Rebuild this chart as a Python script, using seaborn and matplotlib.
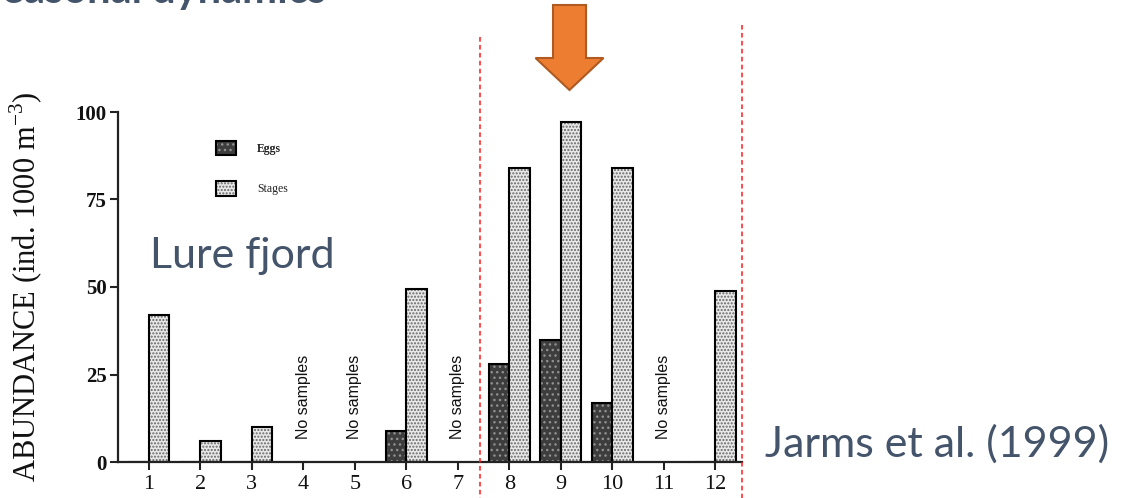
import numpy as np
import pandas as pd
import matplotlib
matplotlib.use("Agg")
import matplotlib.pyplot as plt
import matplotlib.patches as mpatches
import matplotlib.transforms as mtransforms
from matplotlib.lines import Line2D
from matplotlib.colors import to_rgba
import seaborn as sns

# Monthly abundance (ind. 1000 m-3); NaN marks months without samples
months = [str(m) for m in range(1, 13)]
eggs = [0, 0, 0, np.nan, np.nan, 9, np.nan, 28, 35, 17, np.nan, 0]
stages = [42, 6, 10, np.nan, np.nan, 49.5, np.nan, 84, 97, 84, np.nan, 49]
no_sample_months = ["4", "5", "7", "11"]
series_names = ["Eggs", "Stages"]
yticks = [0, 25, 50, 75, 100]

sns.set_theme(style="white")
plt.rcParams["font.family"] = ["Liberation Serif", "DejaVu Serif"]
plt.rcParams["mathtext.fontset"] = "custom"
plt.rcParams["mathtext.rm"] = "Liberation Serif"
plt.rcParams["hatch.linewidth"] = 1.0

W, H = 1127, 498
fig = plt.figure(figsize=(W / 100, H / 100), dpi=100)
fig.patch.set_facecolor("white")

# pixel-space transform (origin top-left) for slide decorations
px = mtransforms.Affine2D().scale(1 / W, -1 / H).translate(0, 1) + fig.transFigure

ax = fig.add_axes([118 / W, 36 / H, 624 / W, 350 / H])

df = pd.DataFrame({
    "month": months * 2,
    "abundance": eggs + stages,
    "series": [series_names[0]] * 12 + [series_names[1]] * 12,
})
palette = {"Eggs": "#3d3d3d", "Stages": "#e8e8e8"}
sns.barplot(data=df, x="month", y="abundance", hue="series", order=months,
            hue_order=series_names, palette=palette, edgecolor="black",
            linewidth=1.5, width=0.8, errorbar=None, legend=False, ax=ax,
            saturation=1)

hatch_cols = {"Eggs": "#909090", "Stages": "#666666"}
hatches = {"Eggs": "...", "Stages": "....."}
for name, cont in zip(series_names, ax.containers):
    for bar in cont:
        bar.set_hatch(hatches[name])
        bar._hatch_color = to_rgba(hatch_cols[name])

for m in no_sample_months:
    ax.text(months.index(m), 6.5, "No samples", rotation=90, ha="center",
            va="bottom", fontsize=11.5, color="#111111",
            family=["Liberation Sans Narrow", "Liberation Sans", "DejaVu Sans"])

ax.set_xlim(-0.6, 11.52)
ax.set_ylim(0, 100)
ax.set_yticks(yticks)
ax.set_xlabel("")
ax.set_ylabel("ABUNDANCE (ind. 1000 m$^{-3}$)", fontsize=22, color="#111111")
ax.yaxis.set_label_coords(-0.117, 0.5)

for s in ["top", "right"]:
    ax.spines[s].set_visible(False)
for s in ["left", "bottom"]:
    ax.spines[s].set_color("#222222")
    ax.spines[s].set_linewidth(1.6)
ax.tick_params(axis="both", direction="out", length=6, width=1.5,
               color="#222222", bottom=True, left=True)
ax.tick_params(axis="x", labelsize=16, pad=3, labelcolor="#111111")
ax.tick_params(axis="y", labelsize=15, pad=2, labelcolor="#111111")
for lab in ax.get_yticklabels():
    lab.set_fontweight("bold")

# legend with textured swatches
handles = []
for name in series_names:
    h = mpatches.Patch(facecolor=palette[name], edgecolor="black",
                       linewidth=1.5, hatch=hatches[name])
    h._hatch_color = to_rgba(hatch_cols[name])
    handles.append(h)
leg = ax.legend(handles, series_names, loc="upper left",
                bbox_to_anchor=((210 - 118) / 624, (462 - 135) / 350),
                frameon=False, fontsize=8.5, borderpad=0, handlelength=1.7,
                handleheight=1.5, handletextpad=1.8, labelspacing=2.2)
for t in leg.get_texts():
    t.set_color("#222222")
leg.get_texts()[0].set_fontweight("bold")

# slide annotations
slate = "#44546A"
fig.text(326, 3, "Seasonal dynamics", transform=px, ha="right",
         va="baseline", fontsize=30, fontweight="bold", color=slate,
         family="Lato")
fig.text(150, 268, "Lure fjord", transform=px, ha="left", va="baseline",
         fontsize=31, color=slate, family="Lato")
fig.text(765, 457, "Jarms et al. (1999)", transform=px, ha="left",
         va="baseline", fontsize=31, color=slate, family="Lato")

for x0, y0 in [(480, 37), (742, 25)]:
    fig.add_artist(Line2D([x0, x0], [y0, H], transform=px, color="#ff1a1a",
                          lw=1.1, dashes=(3, 2.2)))

arrow = mpatches.FancyArrow(569.5, 5, 0, 85, width=33, head_width=68,
                            head_length=32, length_includes_head=True,
                            transform=px, facecolor="#ED7D31",
                            edgecolor="#AE5A21", linewidth=1.5)
fig.add_artist(arrow)

fig.savefig("out.png", dpi=100, facecolor="white")
